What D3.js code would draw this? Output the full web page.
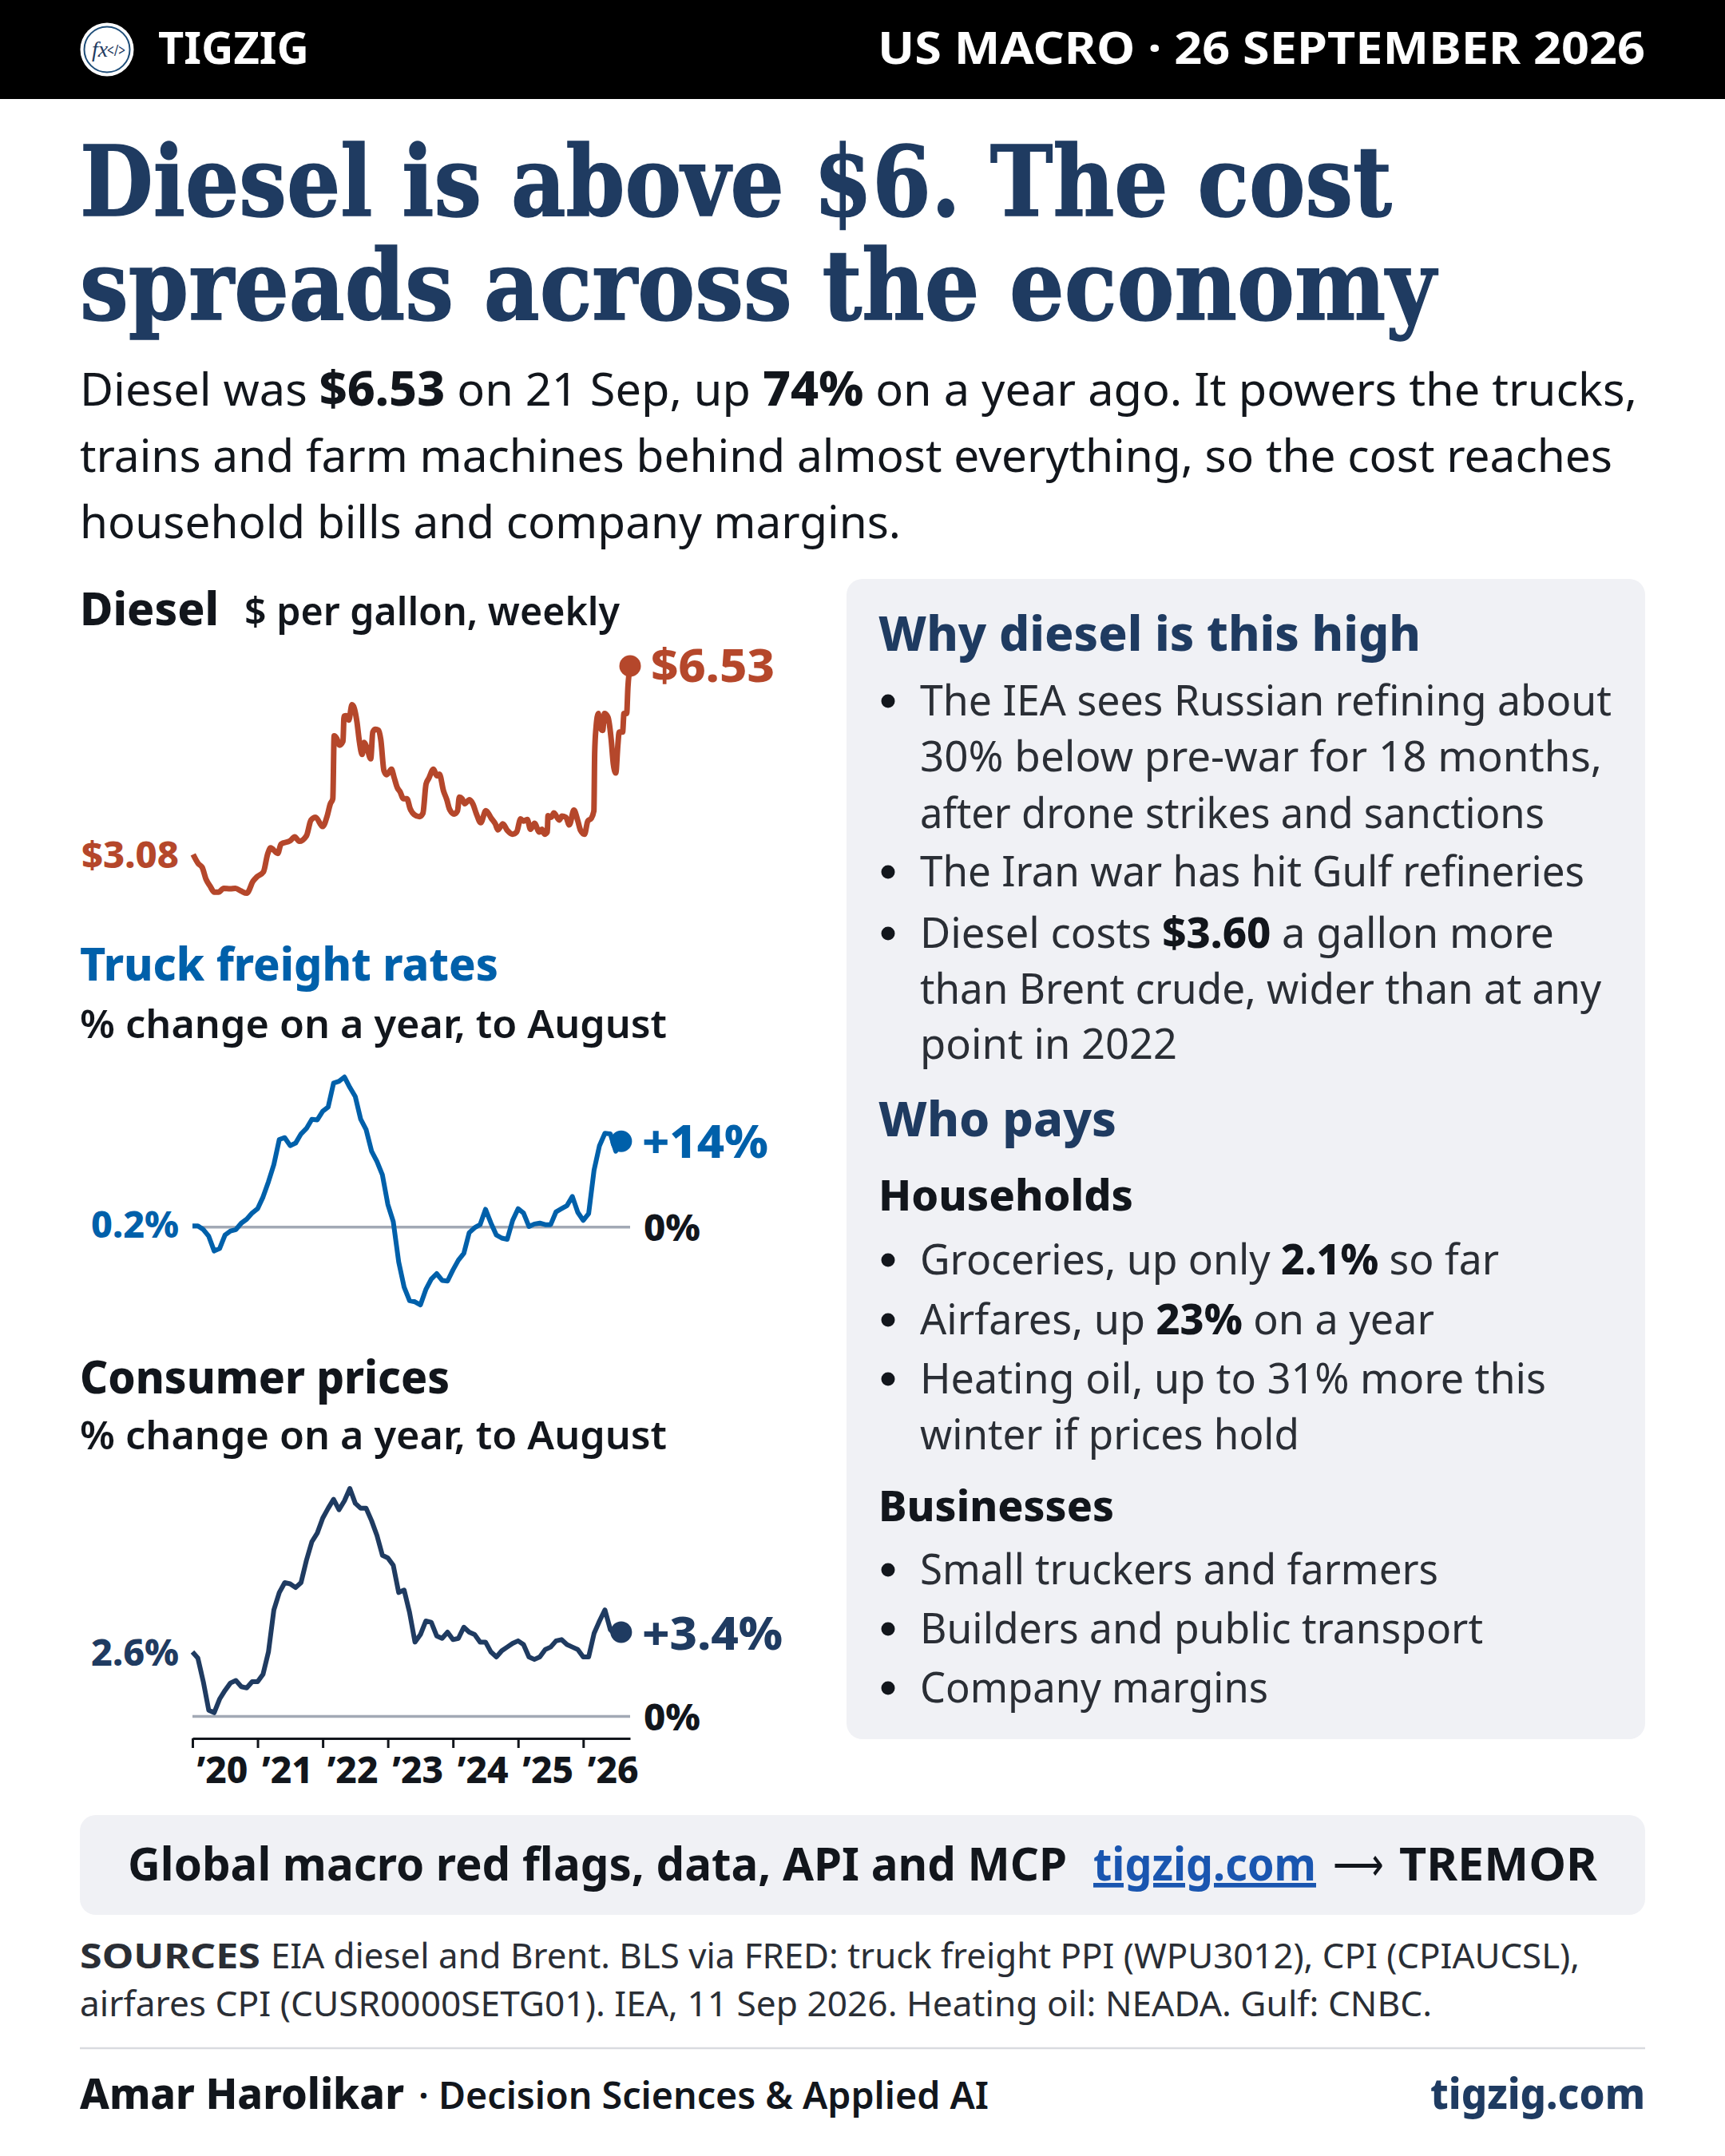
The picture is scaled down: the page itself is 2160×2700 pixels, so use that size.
<!DOCTYPE html>
<html>
<head>
<meta charset="utf-8">
<script src="https://cdn.jsdelivr.net/npm/d3@7"></script>
<style>
  html, body { margin: 0; padding: 0; background: #fff; }
  svg { display: block; }
  text { font-family: "Noto Sans", sans-serif; }
</style>
</head>
<body>
<div id="card"></div>
<script>
// diesel, $ per gallon, weekly-ish readings (decimal year, value)
const dieselDates = [2020.01, 2020.09, 2020.15, 2020.21, 2020.27, 2020.335, 2020.40, 2020.48, 2020.58, 2020.66, 2020.745, 2020.835, 2020.93, 2020.99,
  2021.09, 2021.153, 2021.20, 2021.31, 2021.36, 2021.50, 2021.57, 2021.64, 2021.75, 2021.82, 2021.89, 2022.00, 2022.07, 2022.115, 2022.155,
  2022.176, 2022.217, 2022.258, 2022.311, 2022.328, 2022.36, 2022.40, 2022.45, 2022.483, 2022.524, 2022.565, 2022.606, 2022.638, 2022.679, 2022.737,
  2022.769, 2022.81, 2022.859, 2022.892, 2022.941, 2022.982, 2023.056, 2023.096, 2023.146, 2023.186, 2023.24, 2023.293, 2023.342, 2023.403, 2023.485,
  2023.538, 2023.587, 2023.628, 2023.702, 2023.751, 2023.792, 2023.853, 2023.906, 2023.947, 2024.017, 2024.07, 2024.098, 2024.14, 2024.18, 2024.254,
  2024.303, 2024.364, 2024.426, 2024.505, 2024.589, 2024.65, 2024.691, 2024.765, 2024.834, 2024.916, 2024.978, 2025.039, 2025.08, 2025.141, 2025.19,
  2025.252, 2025.325, 2025.366, 2025.407, 2025.448, 2025.46, 2025.509, 2025.55, 2025.632, 2025.673, 2025.734, 2025.787, 2025.857, 2025.918, 2025.959,
  2026.02, 2026.07, 2026.123, 2026.164, 2026.176, 2026.196, 2026.233, 2026.254, 2026.299, 2026.327, 2026.38, 2026.43, 2026.462, 2026.50, 2026.532,
  2026.552, 2026.605, 2026.626, 2026.667, 2026.687, 2026.72];
const dieselValues = [3.08, 2.91, 2.84, 2.62, 2.50, 2.39, 2.39, 2.46, 2.45, 2.46, 2.41, 2.37, 2.59, 2.67,
  2.76, 3.08, 3.20, 3.10, 3.27, 3.33, 3.40, 3.32, 3.42, 3.71, 3.76, 3.59, 3.79, 4.00, 4.10,
  5.25, 5.20, 5.08, 5.15, 5.61, 5.62, 5.54, 5.82, 5.76, 5.52, 5.13, 4.91, 5.13, 5.03, 4.83,
  5.32, 5.37, 5.35, 5.18, 4.61, 4.54, 4.64, 4.49, 4.30, 4.23, 4.10, 4.10, 3.92, 3.81, 3.77,
  3.83, 4.37, 4.47, 4.64, 4.52, 4.55, 4.25, 4.08, 3.91, 3.82, 3.88, 4.13, 4.10, 4.01, 4.08,
  4.01, 3.81, 3.66, 3.88, 3.74, 3.64, 3.53, 3.64, 3.52, 3.45, 3.49, 3.73, 3.69, 3.72, 3.54,
  3.65, 3.49, 3.54, 3.45, 3.49, 3.79, 3.76, 3.84, 3.71, 3.78, 3.76, 3.62, 3.89, 3.69, 3.52,
  3.45, 3.69, 3.74, 3.88, 4.93, 5.39, 5.66, 5.42, 5.35, 5.66, 5.59, 5.18, 4.74, 4.57, 5.08,
  5.32, 5.32, 5.66, 5.66, 6.15, 6.53];

// monthly, Jan 2020 to Aug 2026, % on a year
const truckValues = [0.2, 0.2, -0.4, -1.5, -3.9, -3.5, -1.3, -0.65, -0.4, 0.65, 1.3, 2.3,
  3.0, 4.9, 7.4, 10.2, 14.3, 14.6, 13.3, 13.7, 15.2, 16.1, 17.6, 17.5,
  18.9, 19.6, 23.5, 23.8, 24.5, 22.8, 21.3, 17.6, 15.9, 12.4, 10.7, 8.5,
  3.7, 0.9, -5.7, -9.8, -12.0, -12.2, -12.7, -10.2, -8.5, -7.6, -8.7, -8.8,
  -7.0, -5.4, -4.3, -0.9, -0.1, 0.4, 2.9, 0.65, -1.3, -1.8, -2.0, 1.1,
  3.0, 2.3, 0.1, 0.5, 0.65, 0.4, 0.4, 2.5, 3.0, 3.5, 5.0, 2.4,
  1.1, 2.2, 9.3, 13.3, 15.3, 15.2, 12.4, 14];
const cpiValues = [2.6, 2.35, 1.4, 0.25, 0.15, 0.7, 1.05, 1.35, 1.45, 1.2, 1.15, 1.4,
  1.4, 1.7, 2.6, 4.3, 5.0, 5.4, 5.35, 5.2, 5.4, 6.3, 7.05, 7.4,
  8.0, 8.4, 8.76, 8.34, 8.7, 9.2, 8.6, 8.4, 8.4, 7.9, 7.3, 6.5,
  6.4, 6.1, 5.0, 5.1, 4.2, 3.0, 3.3, 3.85, 3.8, 3.25, 3.15, 3.4,
  3.1, 3.15, 3.6, 3.4, 3.3, 3.0, 3.0, 2.6, 2.4, 2.65, 2.8, 2.95,
  3.05, 2.9, 2.4, 2.3, 2.4, 2.7, 2.8, 3.05, 3.1, 2.9, 2.8, 2.7,
  2.4, 2.4, 3.35, 3.85, 4.3, 3.5, 3.25, 3.4];
const yearTicks = [2020, 2021, 2022, 2023, 2024, 2025, 2026];

const headline = ['Diesel is above $6. The cost', 'spreads across the economy'];
const navy = '#1f3b61', rust = '#b5472b', blue = '#0060aa', ink = '#12161c', muted = '#2a2e35';

const svg = d3.select('#card').append('svg')
  .attr('width', 2160)
  .attr('height', 2700)
  .attr('viewBox', '0 0 2160 2700');

// a line of text made of [string, weight] runs, squeezed to the measured width
const richLine = (x, y, size, runs, opts = {}) => {
  const t = svg.append('text')
    .attr('x', x)
    .attr('y', y)
    .attr('font-size', size)
    .attr('fill', opts.fill || ink)
    .attr('font-weight', opts.weight || 400)
    .attr('text-anchor', opts.anchor || 'start');
  if (opts.len) t.attr('textLength', opts.len).attr('lengthAdjust', 'spacingAndGlyphs');
  runs.forEach(r => {
    const run = typeof r === 'string' ? { s: r } : r;
    const sp = t.append('tspan').text(run.s);
    if (run.w) sp.attr('font-weight', run.w);
    if (run.fill) sp.attr('fill', run.fill);
    if (run.size) sp.attr('font-size', run.size);
  });
  return t;
};

// header bar
svg.append('rect').attr('width', 2160).attr('height', 124).attr('fill', '#000');
svg.append('circle').attr('cx', 134).attr('cy', 62).attr('r', 33.5).attr('fill', '#fff');
svg.append('circle').attr('cx', 134).attr('cy', 62).attr('r', 28.5).attr('fill', '#fff')
  .attr('stroke', '#1f4e79').attr('stroke-width', 2);
svg.append('text').attr('x', 115).attr('y', 71)
  .attr('font-size', 28).attr('font-style', 'italic').attr('fill', navy)
  .style('font-family', '"Liberation Serif", serif')
  .text('fx');
svg.append('text').attr('x', 134).attr('y', 70)
  .attr('font-size', 20).attr('fill', navy)
  .attr('textLength', 23).attr('lengthAdjust', 'spacingAndGlyphs')
  .text('</>');
richLine(198, 80, 56, ['TIGZIG'], { fill: '#fff', weight: 700, len: 189 });
richLine(2060, 80, 56, ['US MACRO · 26 SEPTEMBER 2026'], { fill: '#fff', weight: 700, anchor: 'end', len: 961 });

// headline
[[270, 1643], [400, 1698]].forEach(([y, w], i) => {
  svg.append('text')
    .attr('x', 100).attr('y', y)
    .attr('font-weight', 700)
    .attr('font-size', 122)
    .attr('fill', navy)
    .attr('stroke', navy)
    .attr('stroke-width', 1.5)
    .attr('textLength', w)
    .attr('lengthAdjust', 'spacingAndGlyphs')
    .style('font-family', '"DejaVu Serif", serif')
    .text(headline[i]);
});

// intro
const B = s => ({ s, w: 800, size: 60 });
richLine(100, 508, 57, ['Diesel was ', B('$6.53'), ' on 21 Sep, up ', B('74%'), ' on a year ago. It powers the trucks,'], { len: 1950 });
richLine(100, 591, 57, ['trains and farm machines behind almost everything, so the cost reaches'], { len: 1919 });
richLine(100, 674, 57, ['household bills and company margins.'], { len: 1028 });

// charts
const x = d3.scaleLinear().domain([2020, 2026.72]).range([241, 789]);
const monthX = i => x(2020 + i / 12);

const yDiesel = d3.scaleLinear().domain([3.08, 6.53]).range([1070, 834]);
const yTruck = d3.scaleLinear().domain([0, 14]).range([1536.7, 1429.3]);
const yCpi = d3.scaleLinear().domain([0, 3.4]).range([2149.5, 2044]);

const drawLine = (xs, values, y, color, width, curve) => {
  const line = d3.line()
    .x((d, i) => xs(i))
    .y(d => y(d))
    .curve(curve);
  svg.append('path')
    .datum(values)
    .attr('d', line)
    .attr('fill', 'none')
    .attr('stroke', color)
    .attr('stroke-width', width)
    .attr('stroke-linejoin', 'round');
  const last = values.length - 1;
  svg.append('circle')
    .attr('cx', xs(last))
    .attr('cy', y(values[last]))
    .attr('r', 13.5)
    .attr('fill', color);
};

const zeroLine = (y) => {
  svg.append('line')
    .attr('x1', x.range()[0]).attr('x2', x.range()[1])
    .attr('y1', y(0)).attr('y2', y(0))
    .attr('stroke', '#a2a9b5')
    .attr('stroke-width', 3.5);
};

// diesel
richLine(100, 783, 57, ['Diesel'], { weight: 800, len: 174 });
richLine(306, 783, 49, ['$ per gallon, weekly'], { weight: 600, len: 470 });
drawLine(i => x(dieselDates[i]), dieselValues, yDiesel, rust, 7, d3.curveMonotoneX);
richLine(224, 1087, 46, ['$3.08'], { fill: rust, weight: 800, anchor: 'end', len: 122 });
richLine(815, 854, 57, ['$6.53'], { fill: rust, weight: 800, len: 155 });

// truck freight
richLine(100, 1228, 57, ['Truck freight rates'], { fill: blue, weight: 800, len: 524 });
richLine(100, 1300, 49, ['% change on a year, to August'], { weight: 600, len: 735 });
zeroLine(yTruck);
drawLine(monthX, truckValues, yTruck, blue, 6, d3.curveLinear);
richLine(224, 1550, 46, ['0.2%'], { fill: blue, weight: 800, anchor: 'end', len: 110 });
richLine(804, 1450, 57, ['+14%'], { fill: blue, weight: 800, len: 158 });
richLine(806, 1554, 46, ['0%'], { weight: 800, len: 71 });

// consumer prices
richLine(100, 1745, 57, ['Consumer prices'], { weight: 800, len: 463 });
richLine(100, 1815, 49, ['% change on a year, to August'], { weight: 600, len: 735 });
zeroLine(yCpi);
drawLine(monthX, cpiValues, yCpi, navy, 6, d3.curveLinear);
richLine(224, 2086, 46, ['2.6%'], { fill: navy, weight: 800, anchor: 'end', len: 110 });
richLine(804, 2066, 57, ['+3.4%'], { fill: navy, weight: 800, len: 176 });
richLine(806, 2167, 46, ['0%'], { weight: 800, len: 71 });

// year axis, labels sit mid-year
const axis = d3.axisBottom(x)
  .tickValues(yearTicks)
  .tickSize(12)
  .tickSizeOuter(0)
  .tickFormat(d => '’' + String(d).slice(2));
const axisG = svg.append('g')
  .attr('transform', 'translate(0,2177)')
  .call(axis);
axisG.select('.domain').attr('stroke', ink).attr('stroke-width', 3);
axisG.selectAll('.tick line').attr('stroke', ink).attr('stroke-width', 3);
axisG.selectAll('.tick text')
  .attr('x', 37)
  .attr('y', 23)
  .attr('dy', '0.71em')
  .attr('font-size', 46)
  .attr('font-weight', 800)
  .attr('font-family', '"Noto Sans", sans-serif')
  .attr('fill', ink);

// side panel
svg.append('rect')
  .attr('x', 1060).attr('y', 725).attr('width', 1000).attr('height', 1453)
  .attr('rx', 20).attr('fill', '#f0f1f5');

const panelHead = (y, s, len) => richLine(1100, y, 60, [s], { fill: navy, weight: 800, len });
const panelSub = (y, s, len) => richLine(1100, y, 54, [s], { weight: 800, len });
const cont = (y, runs, len) => richLine(1152, y, 53, runs, { fill: muted, len });
const bullet = (y, runs, len) => {
  svg.append('circle').attr('cx', 1112).attr('cy', y - 18).attr('r', 8.5).attr('fill', ink);
  cont(y, runs, len);
};
const strong = s => ({ s, w: 800, fill: ink });

panelHead(815, 'Why diesel is this high', 679);
bullet(896, ['The IEA sees Russian refining about'], 866);
cont(966, ['30% below pre-war for 18 months,'], 854);
cont(1037, ['after drone strikes and sanctions'], 782);
bullet(1110, ['The Iran war has hit Gulf refineries'], 832);
bullet(1187, ['Diesel costs ', strong('$3.60'), ' a gallon more'], 794);
cont(1257, ['than Brent crude, wider than at any'], 853);
cont(1326, ['point in 2022'], 322);

panelHead(1423, 'Who pays', 298);
panelSub(1516, 'Households', 319);
bullet(1596, ['Groceries, up only ', strong('2.1%'), ' so far'], 725);
bullet(1671, ['Airfares, up ', strong('23%'), ' on a year'], 644);
bullet(1745, ['Heating oil, up to 31% more this'], 784);
cont(1815, ['winter if prices hold'], 475);
panelSub(1905, 'Businesses', 295);
bullet(1984, ['Small truckers and farmers'], 649);
bullet(2058, ['Builders and public transport'], 705);
bullet(2132, ['Company margins'], 436);

// call to action
svg.append('rect')
  .attr('x', 100).attr('y', 2273).attr('width', 1960).attr('height', 125)
  .attr('rx', 20).attr('fill', '#f0f1f5');
richLine(160, 2355, 57, ['Global macro red flags, data, API and MCP'], { weight: 700, len: 1176 });
richLine(1369, 2355, 57, ['tigzig.com'], { weight: 700, fill: '#1a56b0', len: 279 })
  .attr('text-decoration', 'underline');
richLine(1669, 2355, 57, ['⟶'], { len: 64 });
richLine(1752, 2355, 57, ['TREMOR'], { weight: 700, len: 248 });

// sources
richLine(100, 2465, 43, ['SOURCES'], { weight: 700, fill: muted, len: 226 });
richLine(339, 2465, 43, ['EIA diesel and Brent. BLS via FRED: truck freight PPI (WPU3012), CPI (CPIAUCSL),'], { fill: muted, len: 1639 });
richLine(100, 2525, 43, ['airfares CPI (CUSR0000SETG01). IEA, 11 Sep 2026. Heating oil: NEADA. Gulf: CNBC.'], { fill: muted, len: 1693 });

svg.append('line')
  .attr('x1', 100).attr('x2', 2060).attr('y1', 2565).attr('y2', 2565)
  .attr('stroke', '#d9dbe0').attr('stroke-width', 2.5);

richLine(100, 2641, 54, ['Amar Harolikar'], { weight: 800, len: 406 });
richLine(524, 2641, 47, ['· Decision Sciences & Applied AI'], { weight: 600, len: 714 });
richLine(2060, 2641, 54, ['tigzig.com'], { fill: navy, weight: 800, anchor: 'end', len: 269 });
</script>
</body>
</html>
